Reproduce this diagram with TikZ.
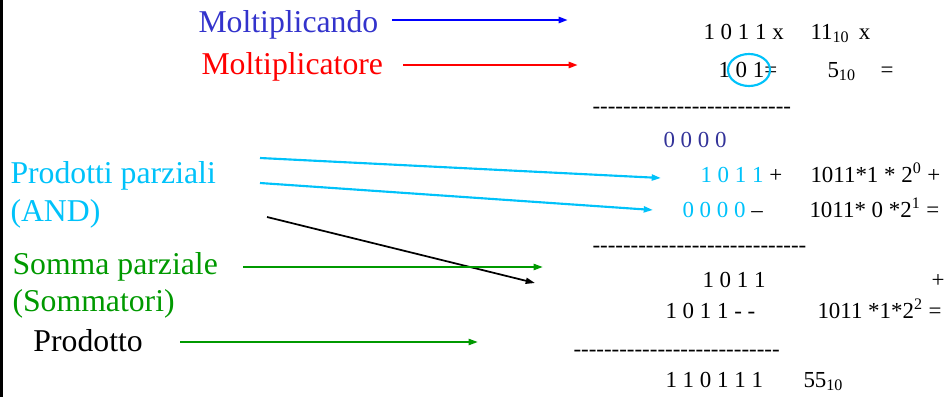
\documentclass[tikz,border=0pt]{standalone}
\usepackage{fontspec}
\setmainfont{Liberation Serif}[Ligatures=TeXOff]
\usetikzlibrary{arrows.meta}

\definecolor{mcandblue}{RGB}{51,51,204}
\definecolor{arrblue}{RGB}{0,0,255}
\definecolor{mtorered}{RGB}{255,0,0}
\definecolor{ppcyan}{RGB}{0,194,250}
\definecolor{spgreen}{RGB}{0,153,0}
\definecolor{zeroblue}{RGB}{51,51,153}

\newcommand{\dashrow}[1]{\foreach \k in {1,...,#1}{-}}

\tikzset{every picture/.style={line width=0.75pt}}
\tikzset{
  lbl/.style={anchor=base west,inner sep=0pt,font=\fontsize{23.8}{28}\selectfont},
  num/.style={anchor=base west,inner sep=0pt,font=\fontsize{17.2}{20}\selectfont},
  tip/.style={-{Triangle[length=7pt,width=4.5pt]}},
}

\begin{document}
\begin{tikzpicture}[x=0.75pt,y=0.75pt,yscale=-1,xscale=1]
\useasboundingbox (0,0) rectangle (946,397);

%left border
\draw [line width=2.2pt] (1.5,0) -- (1.5,397) ;

% Text Node
\node [lbl,text=mcandblue] (mcand) at (198,32) {Moltiplicando};
% Text Node
\node [lbl,text=mtorered] (mtore) at (201,74) {Moltiplicatore};
% Text Node
\node [lbl,text=ppcyan] (pp) at (10,183) {Prodotti parziali};
% Text Node
\node [lbl,text=ppcyan] (ppand) at (10,221) {(AND)};
% Text Node
\node [lbl,text=spgreen] (sp) at (12,274) {Somma parziale};
% Text Node
\node [lbl,text=spgreen] (spsum) at (12,311) {(Sommatori)};
% Text Node
\node [lbl] (prod) at (33,351) {Prodotto};

%operands
\node [num] (mcandbin) at (703,39) {1 0 1 1 x};
\node [num] (mcanddec) at (810,39) {11\textsubscript{10}\, x};
\node [num] (mtorebin) at (718,77) {1 0 1=};
\node [num] (mtoredec) at (827,77) {5\textsubscript{10}\;\;\; =};
\node [num] (ruleA) at (592,113) {\dashrow{26}};

%partial products
\node [num,text=zeroblue] (pzero) at (663,147) {0 0 0 0};
\node [num] (pone) at (700,182) {\textcolor{ppcyan}{1 0 1 1} +};
\node [num] (poneexp) at (810,182) {1011*1 * 2\textsuperscript{0} +};
\node [num] (ptwo) at (682,217) {\textcolor{ppcyan}{0 0 0 0} \textendash};
\node [num] (ptwoexp) at (809,217) {1011* 0 *2\textsuperscript{1} =};
\node [num] (ruleB) at (592,252) {\dashrow{28}};

%partial sum
\node [num] (sone) at (702,287) {1 0 1 1};
\node [num] (splus) at (931,287) {+};
\node [num] (stwo) at (665,318) {1 0 1 1 - -};
\node [num] (stwoexp) at (817,318) {1011 *1*2\textsuperscript{2} =};
\node [num] (ruleC) at (573,356) {\dashrow{27}};

%product
\node [num] (res) at (665,387) {1 1 0 1 1 1};
\node [num] (resdec) at (803,387) {55\textsubscript{10}};

%arrow ends
\coordinate (mcandA) at (392,20) ;
\coordinate (mcandB) at (568,20) ;
\coordinate (mtoreA) at (403,65) ;
\coordinate (mtoreB) at (578,65) ;
\coordinate (ppA) at (260,158) ;
\coordinate (ppB) at (661,178) ;
\coordinate (ppC) at (260,183) ;
\coordinate (ppD) at (653,210) ;
\coordinate (shiftA) at (267,217) ;
\coordinate (shiftB) at (535,283) ;
\coordinate (spA) at (243,267) ;
\coordinate (spB) at (543,267) ;
\coordinate (prodA) at (180,342) ;
\coordinate (prodB) at (478,342) ;

%Straight Lines
\draw [tip,color=arrblue,line width=1.9pt] (mcandA) -- (mcandB) ;
%Straight Lines
\draw [tip,color=mtorered,line width=1.9pt] (mtoreA) -- (mtoreB) ;
%Straight Lines
\draw [tip,color=ppcyan,line width=1.6pt] (ppA) -- (ppB) ;
%Straight Lines
\draw [tip,color=ppcyan,line width=1.6pt] (ppC) -- (ppD) ;
%Straight Lines
\draw [tip,line width=1.3pt] (shiftA) -- (shiftB) ;
%Straight Lines
\draw [tip,color=spgreen,line width=1.6pt] (spA) -- (spB) ;
%Straight Lines
\draw [tip,color=spgreen,line width=1.6pt] (prodA) -- (prodB) ;

%Ellipse
\draw [color=ppcyan,line width=1.6pt] (749,70) ellipse (21 and 16) ;

\end{tikzpicture}
\end{document}
